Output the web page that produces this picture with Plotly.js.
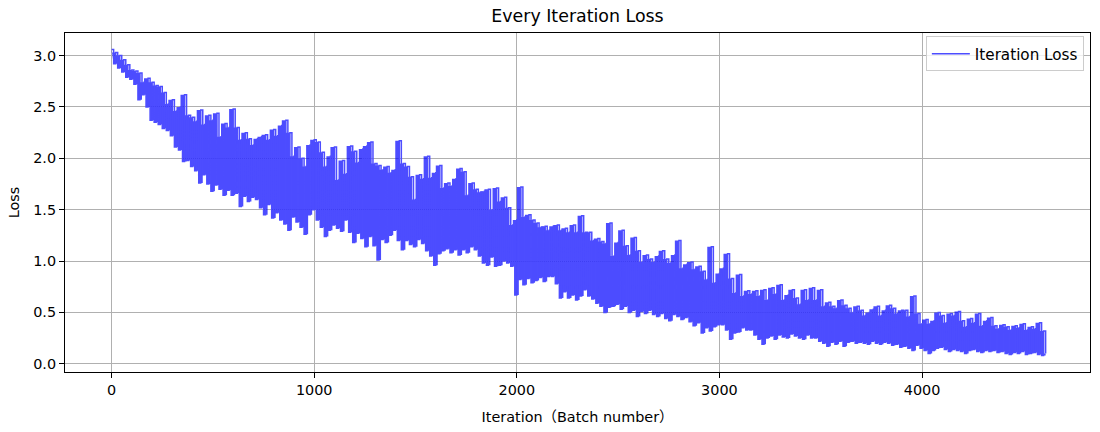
<!DOCTYPE html>
<html><head><meta charset="utf-8">
<script src="https://cdn.plot.ly/plotly-3.0.1.min.js"></script>
<style>html,body{margin:0;padding:0;background:#fff;}#chart{width:1100px;height:432px;}</style>
</head><body><div id="chart"></div>
<script>
// Iteration spacing of the samples
const iterStep = 20;
// Upper edge of the loss band (read every 20 iterations)
const lossHigh = [
3.06,3.03,3.00,2.96,2.91,2.86,2.85,2.83,2.74,2.78,
2.74,2.71,2.70,2.64,2.53,2.57,2.46,2.50,2.62,2.42,
2.40,2.36,2.47,2.33,2.42,2.37,2.44,2.21,2.34,2.30,
2.48,2.30,2.18,2.25,2.19,2.13,2.19,2.21,2.23,2.18,
2.28,2.22,2.32,2.37,2.25,2.02,2.11,2.00,1.92,2.13,
2.18,2.16,2.06,1.92,2.02,2.11,1.79,1.98,1.85,2.12,
2.07,1.96,2.09,2.12,2.16,1.95,1.93,1.89,1.92,1.86,
1.89,2.17,1.95,1.92,1.82,1.60,1.84,1.80,2.02,1.81,
1.86,1.93,1.71,1.76,1.73,1.80,1.90,1.87,1.64,1.76,
1.70,1.67,1.68,1.70,1.50,1.71,1.58,1.62,1.52,1.35,
1.40,1.72,1.43,1.45,1.40,1.37,1.33,1.34,1.30,1.34,
1.35,1.30,1.32,1.28,1.35,1.28,1.44,1.28,1.28,1.20,
1.22,1.19,1.17,1.37,1.05,1.18,1.30,1.15,1.06,1.23,
1.10,0.99,1.06,1.02,0.99,1.05,1.10,1.02,0.98,1.06,
1.20,0.93,0.97,0.99,0.92,0.95,0.90,0.82,1.14,0.79,
0.88,0.93,1.07,0.83,0.69,0.87,0.66,0.71,0.68,0.71,
0.66,0.72,0.62,0.74,0.68,0.77,0.62,0.67,0.72,0.64,
0.58,0.72,0.62,0.74,0.62,0.72,0.56,0.60,0.56,0.54,
0.62,0.57,0.54,0.50,0.56,0.52,0.47,0.50,0.53,0.56,
0.47,0.52,0.57,0.54,0.49,0.52,0.52,0.46,0.66,0.49,
0.39,0.43,0.39,0.42,0.50,0.47,0.40,0.49,0.47,0.51,
0.42,0.36,0.44,0.40,0.49,0.37,0.42,0.45,0.37,0.34,
0.38,0.36,0.33,0.37,0.35,0.39,0.33,0.36,0.34,0.40,
0.32];
// Lower edge of the loss band (read every 20 iterations)
const lossLow = [
2.92,2.88,2.84,2.79,2.77,2.72,2.57,2.62,2.50,2.37,
2.35,2.33,2.29,2.27,2.22,2.11,2.08,1.97,1.98,1.92,
1.88,1.76,1.84,1.75,1.68,1.74,1.70,1.64,1.69,1.64,
1.66,1.53,1.63,1.58,1.62,1.60,1.52,1.45,1.55,1.42,
1.47,1.40,1.36,1.30,1.43,1.38,1.33,1.26,1.45,1.50,
1.40,1.33,1.24,1.30,1.35,1.32,1.29,1.40,1.28,1.18,
1.27,1.22,1.14,1.24,1.15,1.01,1.21,1.18,1.25,1.30,
1.20,1.11,1.20,1.16,1.14,1.21,1.17,1.10,1.05,0.96,
1.07,1.10,1.12,1.08,1.11,1.06,1.11,1.08,1.14,1.11,
1.05,0.98,0.96,1.04,0.95,0.96,1.00,0.98,0.95,0.67,
0.82,0.77,0.83,0.79,0.81,0.84,0.80,0.85,0.85,0.78,
0.64,0.70,0.64,0.67,0.62,0.66,0.72,0.66,0.63,0.59,
0.56,0.50,0.55,0.56,0.58,0.53,0.56,0.50,0.52,0.46,
0.51,0.49,0.52,0.48,0.46,0.49,0.44,0.42,0.48,0.46,
0.43,0.45,0.41,0.37,0.40,0.30,0.35,0.32,0.36,0.38,
0.38,0.33,0.24,0.30,0.31,0.35,0.33,0.33,0.28,0.24,
0.19,0.25,0.27,0.24,0.28,0.26,0.25,0.29,0.27,0.25,
0.24,0.28,0.25,0.25,0.22,0.20,0.17,0.21,0.19,0.22,
0.17,0.21,0.22,0.20,0.21,0.20,0.19,0.22,0.20,0.19,
0.21,0.20,0.18,0.19,0.16,0.17,0.15,0.13,0.18,0.15,
0.13,0.10,0.13,0.15,0.16,0.14,0.12,0.14,0.13,0.12,
0.10,0.13,0.14,0.12,0.11,0.13,0.12,0.13,0.11,0.12,
0.10,0.09,0.11,0.10,0.12,0.09,0.10,0.11,0.09,0.08,
0.10];
const xTickVals = [0, 1000, 2000, 3000, 4000];
const yTickVals = [0, 0.5, 1, 1.5, 2, 2.5, 3];
const titleText = 'Every Iteration Loss';
const xLabel = 'Iteration（Batch number）';
const yLabel = 'Loss';
const seriesName = 'Iteration Loss';

const n = Math.min(lossHigh.length, lossLow.length);
const iters = [];
for (let i = 0; i < n; i++) iters.push(i * iterStep);

// the loss line: high / low samples in iteration order
const lineX = [], lineY = [];
for (let i = 0; i < n; i++) {
  lineX.push(iters[i]); lineY.push(lossHigh[i]);
  lineX.push(iters[i] + iterStep / 2); lineY.push(lossLow[i]);
}
// band body between the low and high samples
const bandX = [], bandY = [];
for (let i = 0; i < n; i++) { bandX.push(iters[i] + iterStep / 2); bandY.push(lossLow[i]); }
for (let i = n - 1; i >= 0; i--) { bandX.push(iters[i]); bandY.push(lossHigh[i]); }

const font = 'DejaVu Sans, Liberation Sans, Noto Sans CJK SC, sans-serif';
const traces = [
  {x: bandX, y: bandY, type: 'scatter', mode: 'lines', fill: 'toself',
   fillcolor: 'rgba(0,0,255,0.7)', line: {width: 0, color: 'rgba(0,0,255,0)', shape: 'hv'},
   showlegend: false, hoverinfo: 'skip'},
  {x: lineX, y: lineY, type: 'scatter', mode: 'lines', name: seriesName,
   line: {color: '#4d4dff', width: 1.5, shape: 'hv'}}
];
const axisCommon = {
  showline: true, mirror: true, linecolor: '#000', linewidth: 1,
  ticks: 'outside', ticklen: 5, tickwidth: 1, tickcolor: '#000',
  showgrid: true, gridcolor: '#b0b0b0', gridwidth: 1, zeroline: false,
  tickfont: {family: font, size: 14.4, color: '#000'}
};
const layout = {
  width: 1100, height: 432,
  margin: {l: 65, r: 10, t: 33, b: 60},
  paper_bgcolor: '#fff', plot_bgcolor: '#fff',
  font: {family: font, color: '#000'},
  title: {text: titleText, x: 0.5, xref: 'paper', y: 1 - 16 / 432, yref: 'container',
          yanchor: 'middle', font: {family: font, size: 17.4, color: '#000'}},
  xaxis: Object.assign({}, axisCommon, {range: [-230, 4829], tickvals: xTickVals,
          title: {text: xLabel, standoff: 14, font: {family: font, size: 14.4, color: '#000'}}}),
  yaxis: Object.assign({}, axisCommon, {range: [-0.08, 3.22], tickvals: yTickVals, tickformat: '.1f',
          title: {text: yLabel, standoff: 10, font: {family: font, size: 14.4, color: '#000'}}}),
  legend: {x: 0.994, y: 0.99, xanchor: 'right', yanchor: 'top', itemwidth: 38,
           bgcolor: 'rgba(255,255,255,0.8)', bordercolor: '#cccccc', borderwidth: 1,
           font: {family: font, size: 15.2, color: '#000'}},
  hovermode: false, showlegend: true
};
Plotly.newPlot('chart', traces, layout, {displayModeBar: false, staticPlot: true});
</script></body></html>
